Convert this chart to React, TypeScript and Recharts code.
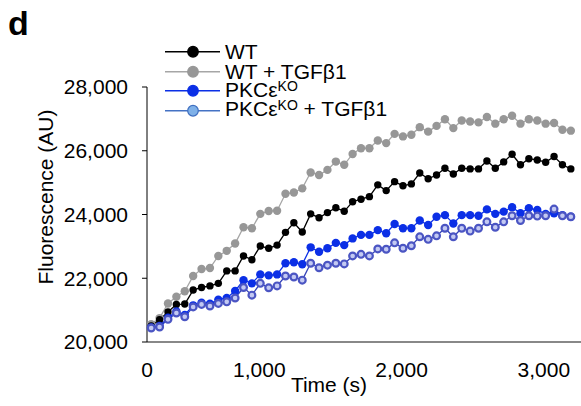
import { LineChart, Line, XAxis, YAxis, Legend } from 'recharts'

const FONT = '"Liberation Sans", Arial, sans-serif'

// sampling times (s), one reading per ~59 s
const TIMES = [
  240, 299, 358, 417, 476, 535, 594, 653, 712, 771,
  830, 889, 948, 1007, 1066, 1125, 1184, 1243, 1302, 1361,
  1420, 1479, 1538, 1597, 1656, 1715, 1774, 1833, 1892, 1951,
  2010, 2069, 2128, 2187, 2246, 2305, 2364, 2423, 2482, 2541,
  2600, 2659, 2718, 2777, 2836, 2895, 2954, 3013, 3072, 3131,
  3190,
]

const WT = [
  20500, 20700, 20940, 21180, 21190, 21630, 21710, 21760, 21840, 22230,
  22230, 22700, 22580, 23010, 22940, 23040, 23440, 23740, 23450, 24020,
  23900, 24060, 24210, 24100, 24400, 24480, 24560, 24930, 24750, 25030,
  24900, 24960, 25300, 25120, 25240, 25450, 25270, 25450, 25430, 25430,
  25680, 25450, 25650, 25890, 25560, 25750, 25710, 25640, 25820, 25560,
  25430,
]

const WT_TGF = [
  20560, 20750, 21210, 21420, 21590, 22070, 22290, 22320, 22700, 22860,
  23090, 23600, 23570, 24020, 24110, 24120, 24650, 24690, 24820, 25320,
  25240, 25400, 25660, 25560, 25900, 26080, 26080, 26320, 26240, 26530,
  26450, 26500, 26740, 26600, 26780, 26990, 26710, 26950, 26920, 26890,
  27060, 26850, 26990, 27100, 26850, 26990, 26950, 26850, 26870, 26660,
  26630,
]

const KO = [
  20460, 20500, 20760, 20960, 20850, 21150, 21230, 21200, 21330, 21380,
  21600, 21940, 21840, 22120, 22090, 22120, 22470, 22500, 22440, 22970,
  22830, 22940, 23110, 23040, 23250, 23360, 23360, 23510, 23410, 23700,
  23570, 23570, 23810, 23670, 23930, 23980, 23720, 23980, 23980, 23960,
  24160, 24020, 24090, 24230, 24040, 24200, 24140, 24020, 24040, 23980,
  23930,
]

const KO_TGF = [
  20440, 20470, 20710, 20910, 20790, 21100, 21180, 21130, 21210, 21260,
  21380, 21710, 21470, 21840, 21700, 21760, 22070, 22040, 21940, 22470,
  22330, 22410, 22470, 22450, 22700, 22750, 22700, 22920, 22910, 23110,
  22940, 23020, 23300, 23220, 23330, 23570, 23300, 23570, 23480, 23570,
  23770, 23600, 23770, 23960, 23810, 23960, 23950, 23960, 24170, 23960,
  23930,
]

const Y_TICKS = [20000, 22000, 24000, 26000, 28000]
const X_TICKS = [210.5, 1000, 2000, 3000]

const data = TIMES.map((t, i) => ({
  t,
  wt: WT[i],
  wtTgf: WT_TGF[i],
  ko: KO[i],
  koTgf: KO_TGF[i],
}))

const GRAY_LINE = '#a6a6a6'
const GRAY_DOT = '#979797'
const BLUE = '#0b2fe6'
const KO_TGF_LINE = '#3442b8'
const KO_TGF_RIM = '#4b55c3'
const KO_TGF_FILL = '#c3c9f2'

const sup = <span style={{ fontSize: 14, position: 'relative', top: -6 }}>KO</span>

const legendRows = [
  { key: 'wt', line: '#000', fill: '#000', stroke: '#000', label: <>WT</> },
  { key: 'wtTgf', line: GRAY_LINE, fill: GRAY_DOT, stroke: GRAY_DOT, label: <>WT + TGFβ1</> },
  { key: 'ko', line: BLUE, fill: BLUE, stroke: BLUE, label: <>PKCε{sup}</> },
  { key: 'koTgf', line: '#4472c4', fill: '#7fb1e8', stroke: '#3f6fc0', label: <>PKCε{sup} + TGFβ1</> },
]

function LegendBox() {
  return (
    <div style={{ fontFamily: FONT, fontSize: 21, color: '#000' }}>
      {legendRows.map((r) => (
        <div key={r.key} style={{ display: 'flex', alignItems: 'center', height: 19.5 }}>
          <svg width={55} height={19.5} style={{ display: 'block' }}>
            <line x1={0} y1={9.75} x2={55} y2={9.75} stroke={r.line} strokeWidth={1.4} />
            <circle cx={28} cy={9.75} r={5.3} fill={r.fill} stroke={r.stroke} strokeWidth={1.2} />
          </svg>
          <span style={{ marginLeft: 5, lineHeight: '19.5px', whiteSpace: 'nowrap' }}>{r.label}</span>
        </div>
      ))}
    </div>
  )
}

function YTitle() {
  return (
    <text
      x={53} y={197}
      transform="rotate(-90 53 197)"
      textAnchor="middle"
      fill="#000"
      fontSize={21}
      fontFamily={FONT}
    >
      Fluorescence (AU)
    </text>
  )
}

function XTitle() {
  return (
    <text x={329} y={392} textAnchor="middle" fill="#000" fontSize={21} fontFamily={FONT}>
      Time (s)
    </text>
  )
}

export default function App() {
  return (
    <div style={{ position: 'absolute', left: 0, top: 0, width: 581, height: 406, background: '#fff' }}>
      <div style={{
        position: 'absolute', left: 8, top: 3, fontFamily: FONT, fontSize: 34,
        fontWeight: 'bold', lineHeight: '40px', color: '#000',
      }}>
        d
      </div>
      <LineChart width={581} height={406} data={data} margin={{ top: 87, right: 0, bottom: 0, left: 0 }}>
        <XAxis
          dataKey="t"
          type="number"
          domain={[210.5, 3261.5]}
          ticks={X_TICKS}
          interval={0}
          tickFormatter={(v: number) => (v < 500 ? '0' : v.toLocaleString('en-US'))}
          tick={{ fill: '#000', fontSize: 21, fontFamily: FONT }}
          tickLine={false}
          tickSize={0}
          tickMargin={20}
          axisLine={{ stroke: '#888888', strokeWidth: 2 }}
          height={64}
          label={<XTitle />}
        />
        <YAxis
          type="number"
          domain={[20000, 28000]}
          ticks={Y_TICKS}
          interval={0}
          tickFormatter={(v: number) => v.toLocaleString('en-US')}
          tick={{ fill: '#000', fontSize: 21, fontFamily: FONT }}
          tickLine={{ stroke: '#000' }}
          tickSize={5}
          tickMargin={14}
          axisLine={{ stroke: '#000', strokeWidth: 1 }}
          width={147}
          label={<YTitle />}
        />
        <Legend
          verticalAlign="middle"
          align="center"
          content={<LegendBox />}
          wrapperStyle={{ left: 165, top: 42, width: 'auto' }}
        />
        <Line
          dataKey="wtTgf" name="WT + TGFβ1" stroke={GRAY_LINE} strokeWidth={1.3}
          dot={{ r: 4.2, fill: GRAY_DOT, stroke: GRAY_DOT, strokeWidth: 0 }}
          activeDot={false} isAnimationActive={false}
        />
        <Line
          dataKey="wt" name="WT" stroke="#000" strokeWidth={1.3}
          dot={{ r: 3.7, fill: '#000', stroke: '#000', strokeWidth: 0 }}
          activeDot={false} isAnimationActive={false}
        />
        <Line
          dataKey="ko" name="PKCεKO" stroke={BLUE} strokeWidth={1.3}
          dot={{ r: 4.2, fill: BLUE, stroke: BLUE, strokeWidth: 0 }}
          activeDot={false} isAnimationActive={false}
        />
        <Line
          dataKey="koTgf" name="PKCεKO + TGFβ1" stroke={KO_TGF_LINE} strokeWidth={1.3}
          dot={{ r: 3.4, fill: KO_TGF_FILL, stroke: KO_TGF_RIM, strokeWidth: 2.2 }}
          activeDot={false} isAnimationActive={false}
        />
      </LineChart>
    </div>
  )
}
